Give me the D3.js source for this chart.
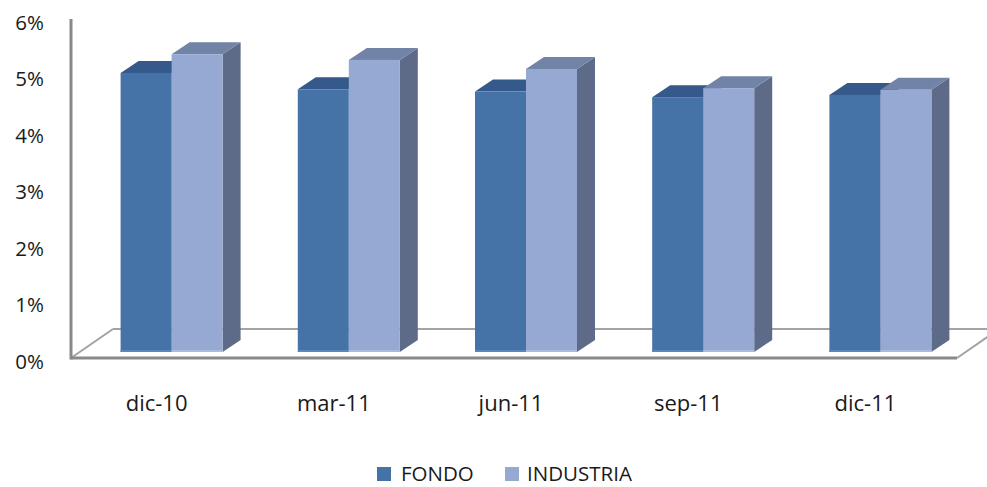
<!DOCTYPE html>
<html>
<head>
<meta charset="utf-8">
<script src="https://cdn.jsdelivr.net/npm/d3@7"></script>
<style>
  html, body { margin: 0; padding: 0; background: #ffffff; }
  svg { display: block; font-family: "Open Sans", "Liberation Sans", sans-serif; }
</style>
</head>
<body>
<svg id="chart" width="987" height="487"></svg>
<script>
// Quarterly returns, percent
const categories = ["dic-10", "mar-11", "jun-11", "sep-11", "dic-11"];
const fondo = [4.94, 4.65, 4.61, 4.51, 4.55];
const industria = [5.27, 5.17, 5.01, 4.67, 4.64];
const seriesNames = ["FONDO", "INDUSTRIA"];
const yTicks = [0, 1, 2, 3, 4, 5, 6];

const svg = d3.select("#chart");

// Front plane of the 3-D plot box
const x = d3.scaleBand().domain(categories).range([71, 957]);
const y = d3.scaleLinear().domain([0, 6]).range([358, 19]);

// Depth offsets: floor depth, bar row position and bar thickness
const floorDx = 42, floorDy = -29;
const rowDx = 12, rowDy = -6;
const barDx = 18, barDy = -12;
const barW = 51;

const palette = {
  FONDO: { front: "#4572a7", top: "#34598a", side: "#2f4f7a", base: "#5d86ba" },
  INDUSTRIA: { front: "#95a9d2", top: "#7183a7", side: "#5e6b88", base: "#aabbdd" }
};

// Floor
const floor = svg.append("g");
const x0 = x.range()[0], x1 = x.range()[1], yb = y(0);
floor.append("line")
  .attr("x1", x0 + floorDx).attr("y1", yb + floorDy)
  .attr("x2", x1 + floorDx).attr("y2", yb + floorDy)
  .attr("stroke", "#a3a3a3").attr("stroke-width", 2);
floor.append("line")
  .attr("x1", x0).attr("y1", yb)
  .attr("x2", x0 + floorDx).attr("y2", yb + floorDy)
  .attr("stroke", "#a3a3a3").attr("stroke-width", 2);
floor.append("line")
  .attr("x1", x1).attr("y1", yb)
  .attr("x2", x1 + floorDx).attr("y2", yb + floorDy)
  .attr("stroke", "#a3a3a3").attr("stroke-width", 2);
floor.append("line")
  .attr("x1", x0).attr("y1", yb)
  .attr("x2", x1).attr("y2", yb)
  .attr("stroke", "#898989").attr("stroke-width", 3);

// Value axis line
svg.append("line")
  .attr("x1", x0).attr("y1", y(6))
  .attr("x2", x0).attr("y2", yb + 1.5)
  .attr("stroke", "#898989").attr("stroke-width", 3);

// Bars
const rows = categories.map((c, i) => ({ c, values: [fondo[i], industria[i]] }));
const bars = svg.append("g");

rows.forEach(r => {
  const cx = x(r.c) + x.bandwidth() / 2 + rowDx;
  r.values.forEach((v, k) => {
    const name = seriesNames[k];
    const col = palette[name];
    const left = cx - barW + k * barW;
    const right = left + barW;
    const top = y(v) + rowDy;
    const bottom = y(0) + rowDy;
    const g = bars.append("g");
    // right side
    g.append("path")
      .attr("d", `M${right},${top}L${right + barDx},${top + barDy}L${right + barDx},${bottom + barDy}L${right},${bottom}Z`)
      .attr("fill", col.side);
    // top
    g.append("path")
      .attr("d", `M${left},${top}L${left + barDx},${top + barDy}L${right + barDx},${top + barDy}L${right},${top}Z`)
      .attr("fill", col.top);
    // front
    g.append("rect")
      .attr("x", left).attr("y", top)
      .attr("width", barW).attr("height", bottom - top)
      .attr("fill", col.front);
    // light base edge
    g.append("rect")
      .attr("x", left).attr("y", bottom - 2)
      .attr("width", barW).attr("height", 2)
      .attr("fill", col.base);
  });
});

// Value axis labels
const yAxis = d3.axisLeft(y).tickValues(yTicks).tickSize(0).tickPadding(0)
  .tickFormat(d => d + "%");
const yg = svg.append("g").attr("transform", "translate(44,3.5)").call(yAxis);
yg.select(".domain").remove();
yg.selectAll("text")
  .attr("font-family", "\"Open Sans\", sans-serif")
  .attr("font-size", 20.5).attr("fill", "#1a1a1a");

// Category labels
const xAxis = d3.axisBottom(x).tickSize(0).tickPadding(0);
const xg = svg.append("g").attr("transform", `translate(-3,${yb})`).call(xAxis);
xg.select(".domain").remove();
xg.selectAll("text")
  .attr("y", 37).attr("dy", "0.71em")
  .attr("font-family", "\"Open Sans\", sans-serif")
  .attr("font-size", 22).attr("fill", "#1a1a1a");

// Legend
const legendItems = [
  { name: "FONDO", sx: 377, tx: 401 },
  { name: "INDUSTRIA", sx: 505, tx: 527 }
];
const lg = svg.append("g");
legendItems.forEach(d => {
  lg.append("rect")
    .attr("x", d.sx).attr("y", 467)
    .attr("width", 14).attr("height", 14)
    .attr("fill", palette[d.name].front);
  lg.append("text")
    .attr("x", d.tx).attr("y", 481)
    .attr("font-family", "\"Open Sans\", sans-serif")
    .attr("font-size", 20.5).attr("fill", "#1a1a1a")
    .text(d.name);
});
</script>
</body>
</html>
